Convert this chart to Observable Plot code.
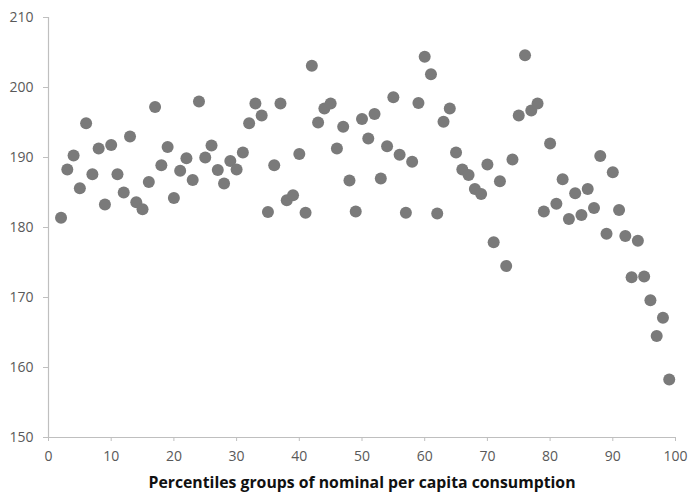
<!DOCTYPE html>
<html>
<head>
<meta charset="utf-8">
<script src="https://cdn.jsdelivr.net/npm/d3@7"></script>
<script src="https://cdn.jsdelivr.net/npm/@observablehq/plot@0.6"></script>
<style>
  html, body { margin: 0; padding: 0; background: #fff; }
</style>
</head>
<body>
<div id="chart"></div>
<script>
const percentiles = [
  2, 3, 4, 5, 6, 7, 8, 9, 10, 11, 12, 13, 14, 15, 16, 17, 18, 19, 20, 21,
  22, 23, 24, 25, 26, 27, 28, 29, 30, 31, 32, 33, 34, 35, 36, 37, 38, 39, 40, 41,
  42, 43, 44, 45, 46, 47, 48, 49, 50, 51, 52, 53, 54, 55, 56, 57, 58, 59, 60, 61,
  62, 63, 64, 65, 66, 67, 68, 69, 70, 71, 72, 73, 74, 75, 76, 77, 78, 79, 80, 81,
  82, 83, 84, 85, 86, 87, 88, 89, 90, 91, 92, 93, 94, 95, 96, 97, 98, 99
];
const values = [
  181.4, 188.3, 190.3, 185.6, 194.9, 187.6, 191.3, 183.3, 191.8, 187.6,
  185.0, 193.0, 183.6, 182.6, 186.5, 197.2, 188.9, 191.5, 184.2, 188.1,
  189.9, 186.8, 198.0, 190.0, 191.7, 188.2, 186.3, 189.5, 188.3, 190.7,
  194.9, 197.7, 196.0, 182.2, 188.9, 197.7, 183.9, 184.6, 190.5, 182.1,
  203.1, 195.0, 197.0, 197.7, 191.3, 194.4, 186.7, 182.3, 195.5, 192.7,
  196.2, 187.0, 191.6, 198.6, 190.4, 182.1, 189.4, 197.8, 204.4, 201.9,
  182.0, 195.1, 197.0, 190.7, 188.3, 187.5, 185.5, 184.8, 189.0, 177.9,
  186.6, 174.5, 189.7, 196.0, 204.6, 196.7, 197.7, 182.3, 192.0, 183.4,
  186.9, 181.2, 184.9, 181.8, 185.5, 182.8, 190.2, 179.1, 187.9, 182.5,
  178.8, 172.9, 178.1, 173.0, 169.6, 164.5, 167.1, 158.3
];
const xTicks = [0, 10, 20, 30, 40, 50, 60, 70, 80, 90, 100];
const yTicks = [150, 160, 170, 180, 190, 200, 210];
const xLabel = "Percentiles groups of nominal per capita consumption";

const data = percentiles.map((p, i) => ({ p, v: values[i] }));

const axisColor = "#bfbfbf";
const textColor = "#595959";

const chart = Plot.plot({
  width: 690,
  height: 500,
  marginLeft: 48,
  marginRight: 15,
  marginTop: 17,
  marginBottom: 63,
  style: { fontFamily: "'Open Sans', sans-serif", fontSize: "14px", background: "#fff" },
  x: { domain: [0, 100] },
  y: { domain: [150, 210] },
  marks: [
    Plot.ruleY([150], { stroke: axisColor, strokeWidth: 1.2 }),
    Plot.ruleX([0], { stroke: axisColor, strokeWidth: 1.2 }),
    Plot.axisX({ ticks: xTicks, tickSize: 4, tickPadding: 10, stroke: axisColor, fill: textColor, label: null, fontSize: 14 }),
    Plot.axisY({ ticks: yTicks, tickSize: 5, tickPadding: 10, stroke: axisColor, fill: textColor, label: null, fontSize: 14 }),
    Plot.dot(data, { x: "p", y: "v", r: 6, fill: "#7a7a7a", stroke: "none" }),
    Plot.text([xLabel], { text: d => d, frameAnchor: "bottom", dy: 50, fontWeight: "bold", fontSize: 15.8, fill: "#111" })
  ]
});
document.getElementById("chart").appendChild(chart);
</script>
</body>
</html>
